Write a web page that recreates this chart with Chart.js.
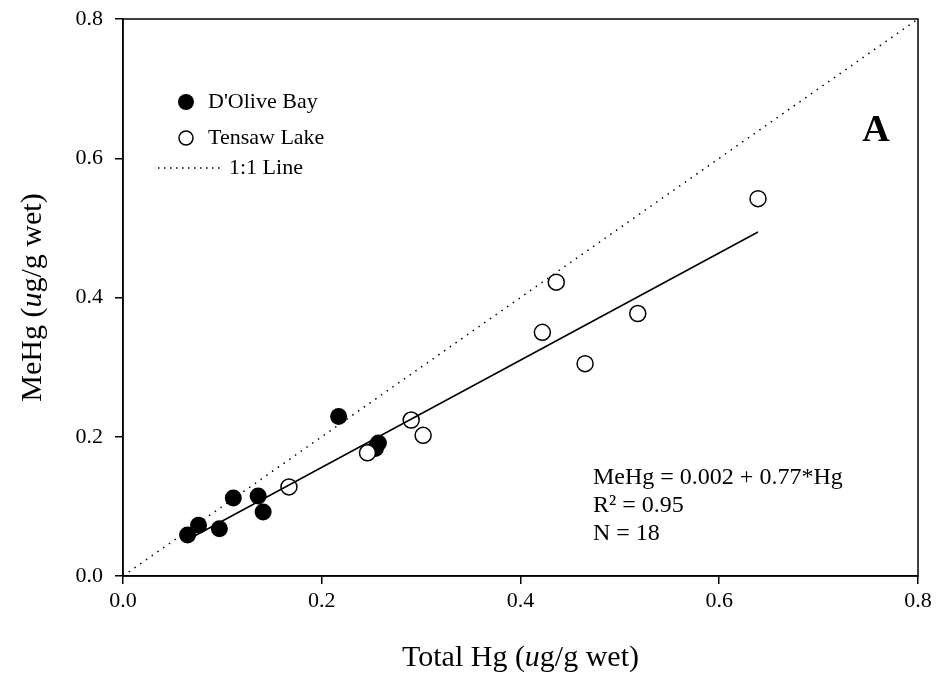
<!DOCTYPE html>
<html>
<head>
<meta charset="utf-8">
<title>MeHg vs Total Hg</title>
<script src="https://cdn.jsdelivr.net/npm/chart.js@4.4.0/dist/chart.umd.min.js"></script>
<style>
  html, body { margin: 0; padding: 0; background: #fff; }
</style>
</head>
<body>
<canvas id="chart" width="943" height="691"></canvas>
<script>
// D'Olive Bay samples (total Hg, MeHg), ug/g wet
const doliveHg   = [0.065, 0.076, 0.097, 0.111, 0.136, 0.141, 0.217, 0.257, 0.254];
const doliveMeHg = [0.059, 0.073, 0.068, 0.112, 0.115, 0.092, 0.229, 0.191, 0.183];

// Tensaw Lake samples
const tensawHg   = [0.167, 0.246, 0.290, 0.302, 0.422, 0.436, 0.465, 0.518, 0.639];
const tensawMeHg = [0.128, 0.177, 0.224, 0.202, 0.350, 0.422, 0.305, 0.377, 0.542];

// regression: MeHg = a + b*Hg
const fitIntercept = 0.002;
const fitSlope = 0.77;
const fitText = ['MeHg = 0.002 + 0.77*Hg', 'R\u00B2 = 0.95', 'N = 18'];

const axisTicks = [0.0, 0.2, 0.4, 0.6, 0.8];

const SERIF = '"Liberation Serif", "Times New Roman", serif';

function toPoints(xs, ys) {
    return xs.map((x, i) => ({ x: x, y: ys[i] }));
}

const allHg = doliveHg.concat(tensawHg);
const fitX = [Math.min(...allHg), Math.max(...allHg)];
const fitLine = fitX.map(x => ({ x: x, y: fitIntercept + fitSlope * x }));
const oneToOne = [{ x: axisTicks[0], y: axisTicks[0] }, { x: axisTicks[4], y: axisTicks[4] }];

// draw text where some pieces are italic, centred on (cx, cy)
function drawMixed(ctx, parts, cx, cy, size) {
    let total = 0;
    parts.forEach(p => {
        ctx.font = (p.italic ? 'italic ' : '') + size + 'px ' + SERIF;
        p.w = ctx.measureText(p.t).width;
        total += p.w;
    });
    let x = cx - total / 2;
    ctx.textAlign = 'left';
    ctx.textBaseline = 'middle';
    parts.forEach(p => {
        ctx.font = (p.italic ? 'italic ' : '') + size + 'px ' + SERIF;
        ctx.fillText(p.t, x, cy);
        x += p.w;
    });
}

const overlay = {
    id: 'overlay',
    afterDraw(chart) {
        const ctx = chart.ctx;
        const a = chart.chartArea;
        ctx.save();
        ctx.fillStyle = '#000';
        ctx.strokeStyle = '#000';

        // frame
        ctx.lineWidth = 1.5;
        ctx.strokeRect(a.left, a.top, a.right - a.left, a.bottom - a.top);

        // legend
        ctx.font = '22px ' + SERIF;
        ctx.textAlign = 'left';
        ctx.textBaseline = 'middle';
        ctx.beginPath();
        ctx.arc(186, 102, 8, 0, Math.PI * 2);
        ctx.fill();
        ctx.fillText("D'Olive Bay", 208, 102);

        ctx.beginPath();
        ctx.arc(186, 138, 7, 0, Math.PI * 2);
        ctx.fillStyle = '#fff';
        ctx.fill();
        ctx.lineWidth = 1.5;
        ctx.stroke();
        ctx.fillStyle = '#000';
        ctx.fillText('Tensaw Lake', 208, 138);

        ctx.setLineDash([1.5, 4.5]);
        ctx.beginPath();
        ctx.moveTo(158, 168);
        ctx.lineTo(220, 168);
        ctx.stroke();
        ctx.setLineDash([]);
        ctx.fillText('1:1 Line', 229, 168);

        // panel letter
        ctx.font = 'bold 38px ' + SERIF;
        ctx.textAlign = 'center';
        ctx.fillText('A', 876, 131);

        // regression statistics
        ctx.font = '24px ' + SERIF;
        ctx.textAlign = 'left';
        fitText.forEach((t, i) => ctx.fillText(t, 593, 478 + i * 28));

        // axis titles
        drawMixed(ctx, [{ t: 'Total Hg (' }, { t: 'u', italic: true }, { t: 'g/g wet)' }],
            (a.left + a.right) / 2, 658, 30);
        ctx.save();
        ctx.translate(33, (a.top + a.bottom) / 2);
        ctx.rotate(-Math.PI / 2);
        drawMixed(ctx, [{ t: 'MeHg (' }, { t: 'u', italic: true }, { t: 'g/g wet)' }], 0, 0, 30);
        ctx.restore();

        ctx.restore();
    }
};

Chart.defaults.font.family = SERIF;
Chart.defaults.color = '#000';

const axisBase = {
    type: 'linear',
    min: axisTicks[0],
    max: axisTicks[axisTicks.length - 1],
    border: { display: true, color: '#000', width: 1.5 },
    grid: { display: true, drawOnChartArea: false, drawTicks: true, tickLength: 8, color: '#000', lineWidth: 1.5 },
    title: { display: false }
};

new Chart(document.getElementById('chart'), {
    type: 'scatter',
    data: {
        datasets: [
            {
                label: 'Regression',
                data: fitLine,
                showLine: true,
                borderColor: '#000',
                borderWidth: 1.5,
                pointRadius: 0,
                order: 0
            },
            {
                label: '1:1 Line',
                data: oneToOne,
                showLine: true,
                borderColor: '#000',
                borderWidth: 1.5,
                borderDash: [1.5, 5.5],
                pointRadius: 0,
                order: 1
            },
            {
                label: 'Tensaw Lake',
                data: toPoints(tensawHg, tensawMeHg),
                pointRadius: 8,
                pointBackgroundColor: '#fff',
                pointBorderColor: '#000',
                pointBorderWidth: 1.5,
                order: 2
            },
            {
                label: "D'Olive Bay",
                data: toPoints(doliveHg, doliveMeHg),
                pointRadius: 8.5,
                pointBackgroundColor: '#000',
                pointBorderColor: '#000',
                pointBorderWidth: 0,
                order: 3
            }
        ]
    },
    options: {
        responsive: false,
        animation: false,
        layout: { padding: { left: 0, top: 19, right: 25, bottom: 0 } },
        plugins: {
            legend: { display: false },
            tooltip: { enabled: false }
        },
        scales: {
            x: Object.assign({}, axisBase, {
                position: 'bottom',
                afterFit(scale) {
                    scale.height = 115;
                    scale.paddingLeft = 0;
                    scale.paddingRight = 0;
                },
                afterBuildTicks(scale) { scale.ticks = axisTicks.map(v => ({ value: v })); },
                ticks: { font: { size: 22 }, padding: 4, maxRotation: 0, callback: v => v.toFixed(1) }
            }),
            y: Object.assign({}, axisBase, {
                position: 'left',
                afterFit(scale) {
                    scale.width = 123;
                    scale.paddingTop = 0;
                    scale.paddingBottom = 0;
                },
                afterBuildTicks(scale) { scale.ticks = axisTicks.map(v => ({ value: v })); },
                ticks: { font: { size: 22 }, padding: 12, callback: v => v.toFixed(1) }
            })
        }
    },
    plugins: [overlay]
});
</script>
</body>
</html>
